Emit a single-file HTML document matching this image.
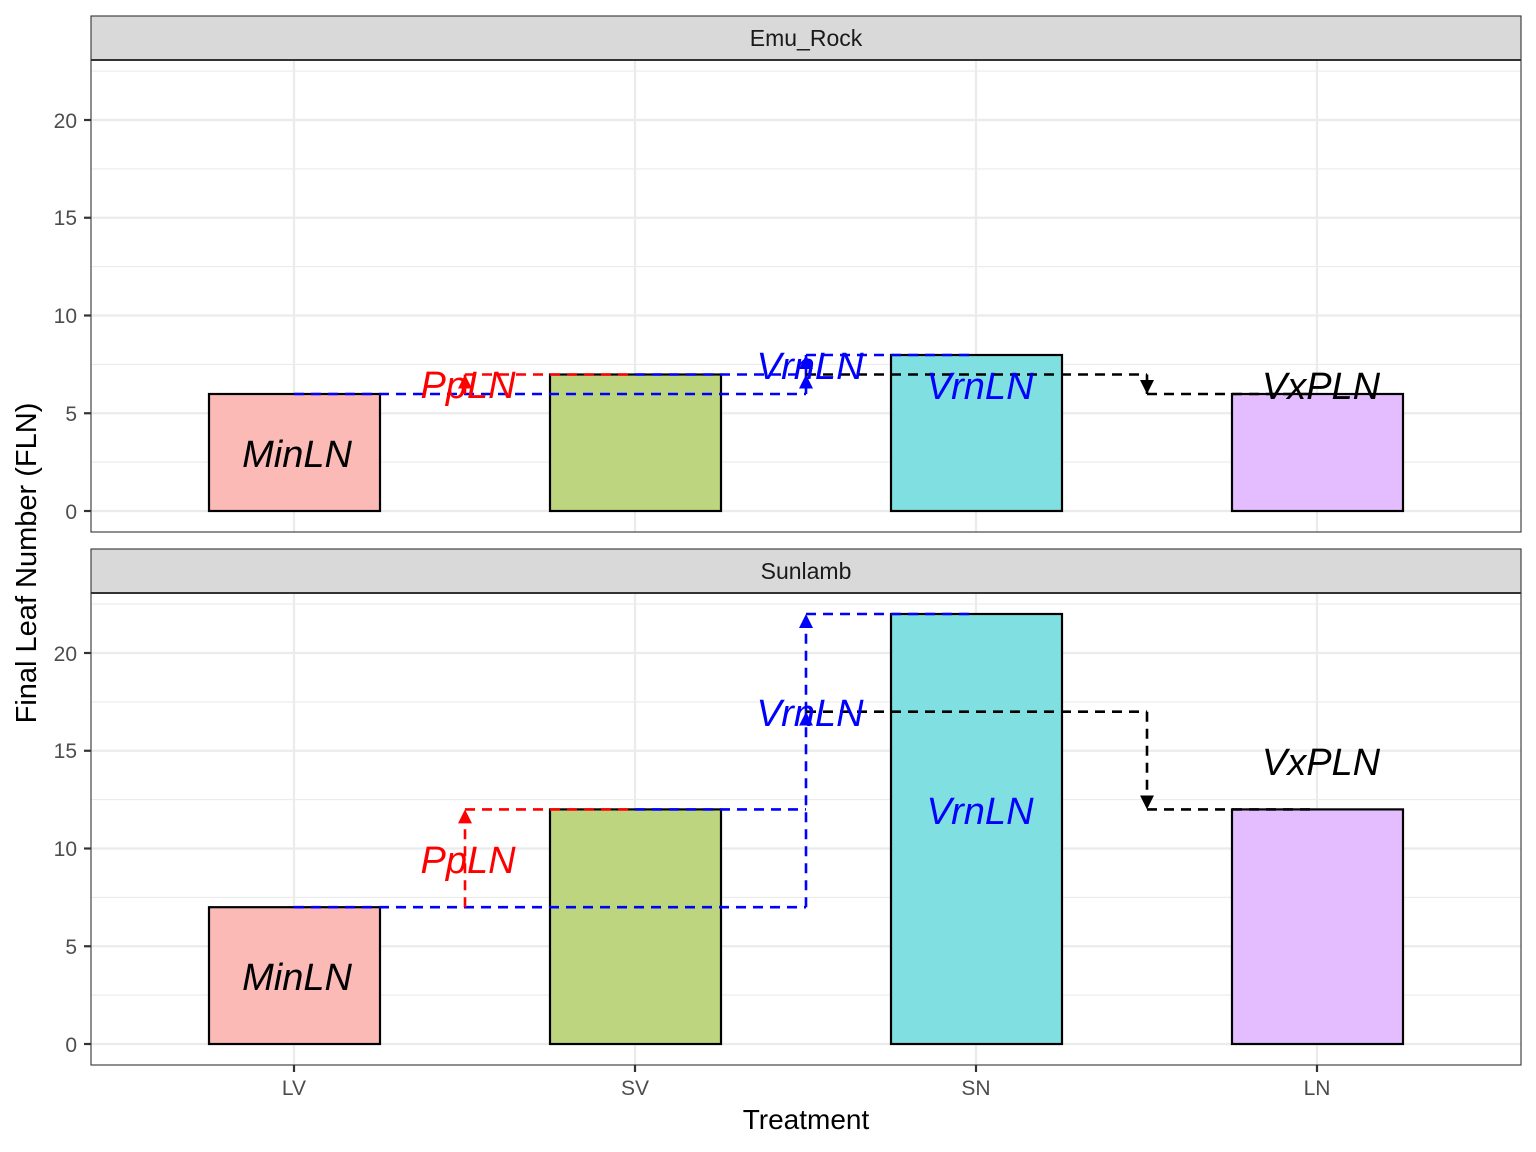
<!DOCTYPE html>
<html><head><meta charset="utf-8"><style>body{margin:0;background:#fff}svg{display:block}</style></head><body>
<svg width="1536" height="1152" viewBox="0 0 1536 1152" xmlns="http://www.w3.org/2000/svg" font-family="Liberation Sans, sans-serif">
<defs>
<marker id="ab" viewBox="0 0 10 10" refX="10" refY="5" markerWidth="14" markerHeight="14" markerUnits="userSpaceOnUse" orient="auto"><path d="M0,0L10,5L0,10z" fill="blue"/></marker>
<marker id="ar" viewBox="0 0 10 10" refX="10" refY="5" markerWidth="14" markerHeight="14" markerUnits="userSpaceOnUse" orient="auto"><path d="M0,0L10,5L0,10z" fill="red"/></marker>
<marker id="ak" viewBox="0 0 10 10" refX="10" refY="5" markerWidth="14" markerHeight="14" markerUnits="userSpaceOnUse" orient="auto"><path d="M0,0L10,5L0,10z" fill="black"/></marker>
</defs>
<rect width="1536" height="1152" fill="#fff"/>
<g stroke="#ebebeb" stroke-width="1.1">
<line x1="91" x2="1521" y1="462.1" y2="462.1"/><line x1="91" x2="1521" y1="364.4" y2="364.4"/><line x1="91" x2="1521" y1="266.6" y2="266.6"/><line x1="91" x2="1521" y1="168.9" y2="168.9"/><line x1="91" x2="1521" y1="71.1" y2="71.1"/>
<line x1="91" x2="1521" y1="995.1" y2="995.1"/><line x1="91" x2="1521" y1="897.4" y2="897.4"/><line x1="91" x2="1521" y1="799.6" y2="799.6"/><line x1="91" x2="1521" y1="701.9" y2="701.9"/><line x1="91" x2="1521" y1="604.1" y2="604.1"/>
</g>
<g stroke="#ebebeb" stroke-width="2.2">
<line x1="91" x2="1521" y1="511" y2="511"/><line x1="91" x2="1521" y1="413.25" y2="413.25"/><line x1="91" x2="1521" y1="315.5" y2="315.5"/><line x1="91" x2="1521" y1="217.75" y2="217.75"/><line x1="91" x2="1521" y1="120" y2="120"/>
<line x1="91" x2="1521" y1="1044" y2="1044"/><line x1="91" x2="1521" y1="946.25" y2="946.25"/><line x1="91" x2="1521" y1="848.5" y2="848.5"/><line x1="91" x2="1521" y1="750.75" y2="750.75"/><line x1="91" x2="1521" y1="653" y2="653"/>
<line x1="294" x2="294" y1="60" y2="532"/><line x1="635" x2="635" y1="60" y2="532"/><line x1="976" x2="976" y1="60" y2="532"/><line x1="1317" x2="1317" y1="60" y2="532"/>
<line x1="294" x2="294" y1="593" y2="1065"/><line x1="635" x2="635" y1="593" y2="1065"/><line x1="976" x2="976" y1="593" y2="1065"/><line x1="1317" x2="1317" y1="593" y2="1065"/>
</g>
<g stroke="#000" stroke-width="2.2">
<rect x="209" y="394" width="171" height="117" fill="#FBBAB6"/>
<rect x="550" y="374.5" width="171" height="136.5" fill="#BED580"/>
<rect x="891" y="355" width="171" height="156" fill="#7FDFE1"/>
<rect x="1232" y="394" width="171" height="117" fill="#E3BDFF"/>
<rect x="209" y="907.2" width="171" height="136.8" fill="#FBBAB6"/>
<rect x="550" y="809.4" width="171" height="234.6" fill="#BED580"/>
<rect x="891" y="614" width="171" height="430" fill="#7FDFE1"/>
<rect x="1232" y="809.4" width="171" height="234.6" fill="#E3BDFF"/>
</g>
<g fill="none" stroke-width="2.6" stroke-dasharray="10,7">
<polyline points="294,394 806,394" stroke="blue"/>
<line x1="806" y1="394" x2="806" y2="374.5" stroke="blue" marker-end="url(#ab)"/>
<line x1="806" y1="374.5" x2="806" y2="355" stroke="blue" marker-end="url(#ab)"/>
<line x1="806" y1="355" x2="976" y2="355" stroke="blue"/>
<line x1="465" y1="394" x2="465" y2="374.5" stroke="red" marker-end="url(#ar)"/>
<line x1="465" y1="374.5" x2="635" y2="374.5" stroke="red"/>
<line x1="635" y1="374.5" x2="806" y2="374.5" stroke="blue"/>
<line x1="806" y1="374.5" x2="1147" y2="374.5" stroke="#000"/>
<line x1="1147" y1="374.5" x2="1147" y2="394" stroke="#000" marker-end="url(#ak)"/>
<line x1="1147" y1="394" x2="1317" y2="394" stroke="#000"/>
<line x1="294" y1="907.2" x2="806" y2="907.2" stroke="blue"/>
<line x1="806" y1="907.2" x2="806" y2="711.7" stroke="blue" marker-end="url(#ab)"/>
<line x1="806" y1="711.7" x2="806" y2="614" stroke="blue" marker-end="url(#ab)"/>
<line x1="806" y1="614" x2="976" y2="614" stroke="blue"/>
<line x1="465" y1="907.2" x2="465" y2="809.4" stroke="red" marker-end="url(#ar)"/>
<line x1="465" y1="809.4" x2="635" y2="809.4" stroke="red"/>
<line x1="635" y1="809.4" x2="806" y2="809.4" stroke="blue"/>
<line x1="806" y1="711.7" x2="1147" y2="711.7" stroke="#000"/>
<line x1="1147" y1="711.7" x2="1147" y2="809.4" stroke="#000" marker-end="url(#ak)"/>
<line x1="1147" y1="809.4" x2="1317" y2="809.4" stroke="#000"/>
</g>
<g font-style="italic" font-size="38" text-anchor="middle">
<text x="297" y="467" fill="#000">MinLN</text>
<text x="468" y="398" fill="red">PpLN</text>
<text x="810" y="379" fill="blue">VrnLN</text>
<text x="980" y="399" fill="blue">VrnLN</text>
<text x="1321" y="399" fill="#000">VxPLN</text>
<text x="297" y="990" fill="#000">MinLN</text>
<text x="468" y="873" fill="red">PpLN</text>
<text x="810" y="726" fill="blue">VrnLN</text>
<text x="980" y="824" fill="blue">VrnLN</text>
<text x="1321" y="775" fill="#000">VxPLN</text>
</g>
<rect x="91" y="16" width="1430" height="44" fill="#d9d9d9" stroke="#333" stroke-width="1.1"/>
<rect x="91" y="549" width="1430" height="44" fill="#d9d9d9" stroke="#333" stroke-width="1.1"/>
<rect x="91" y="60" width="1430" height="472" fill="none" stroke="#333" stroke-width="1.1"/>
<rect x="91" y="593" width="1430" height="472" fill="none" stroke="#333" stroke-width="1.1"/>
<line x1="91" x2="1521" y1="60" y2="60" stroke="#333" stroke-width="2"/>
<line x1="91" x2="1521" y1="593" y2="593" stroke="#333" stroke-width="2"/>
<g font-size="23" fill="#1a1a1a" text-anchor="middle">
<text x="806" y="46">Emu_Rock</text>
<text x="806" y="579">Sunlamb</text>
</g>
<g stroke="#333" stroke-width="2.2">
<line x1="84" x2="91" y1="511" y2="511"/><line x1="84" x2="91" y1="413.25" y2="413.25"/><line x1="84" x2="91" y1="315.5" y2="315.5"/><line x1="84" x2="91" y1="217.75" y2="217.75"/><line x1="84" x2="91" y1="120" y2="120"/>
<line x1="84" x2="91" y1="1044" y2="1044"/><line x1="84" x2="91" y1="946.25" y2="946.25"/><line x1="84" x2="91" y1="848.5" y2="848.5"/><line x1="84" x2="91" y1="750.75" y2="750.75"/><line x1="84" x2="91" y1="653" y2="653"/>
<line x1="294" x2="294" y1="1065" y2="1072"/><line x1="635" x2="635" y1="1065" y2="1072"/><line x1="976" x2="976" y1="1065" y2="1072"/><line x1="1317" x2="1317" y1="1065" y2="1072"/>
</g>
<g font-size="21" fill="#4d4d4d" text-anchor="end">
<text x="77" y="519">0</text><text x="77" y="421">5</text><text x="77" y="323">10</text><text x="77" y="225">15</text><text x="77" y="128">20</text>
<text x="77" y="1052">0</text><text x="77" y="954">5</text><text x="77" y="856">10</text><text x="77" y="758">15</text><text x="77" y="661">20</text>
</g>
<g font-size="21" fill="#4d4d4d" text-anchor="middle">
<text x="294" y="1095">LV</text><text x="635" y="1095">SV</text><text x="976" y="1095">SN</text><text x="1317" y="1095">LN</text>
</g>
<text x="806" y="1129" font-size="28" text-anchor="middle" fill="#000">Treatment</text>
<text transform="translate(36,563) rotate(-90)" font-size="29" text-anchor="middle" fill="#000">Final Leaf Number (FLN)</text>
</svg>
</body></html>
